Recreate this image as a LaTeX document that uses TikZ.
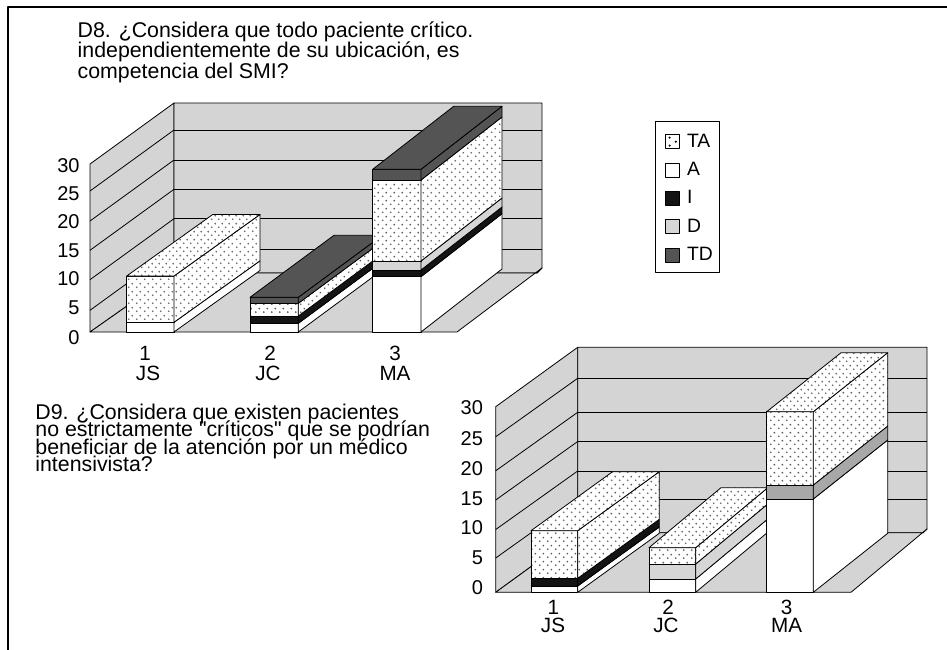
\documentclass[tikz,border=0pt]{standalone}
\usepackage{fontspec}
\setmainfont{Liberation Sans}[Ligatures=TeXOff]
\usetikzlibrary{patterns.meta}
\definecolor{wallgray}{gray}{0.83}
\definecolor{tdgray}{gray}{0.33}
\definecolor{ingray}{gray}{0.08}
\definecolor{dlgray}{gray}{0.84}
\definecolor{dmgray}{gray}{0.66}
\tikzdeclarepattern{
  name=tadots,
  type=uncolored,
  bounding box={(0pt,0pt) and (5.6pt,5.6pt)},
  tile size={(5.6pt,5.6pt)},
  code={
    \pgfpathcircle{\pgfqpoint{1.4pt}{1.4pt}}{0.78pt}
    \pgfpathcircle{\pgfqpoint{4.2pt}{4.2pt}}{0.78pt}
    \pgfusepath{fill}
  }
}
% front face + side face of one stacked segment
\newcommand{\barseg}[7]{%
  \path[#7] (#1,#3) rectangle (#2,#4);
  \path[#7] (#2,#3) -- (#2+#5,#3-#6) -- (#2+#5,#4-#6) -- (#2,#4) -- cycle;}
% top face of a bar
\newcommand{\bartop}[6]{%
  \path[#6] (#1,#3) -- (#2,#3) -- (#2+#4,#3-#5) -- (#1+#4,#3-#5) -- cycle;}
\begin{document}
\begin{tikzpicture}[x=0.75pt,y=-0.75pt,
  line width=0.6pt, line join=round,
  wall/.style={draw=black, fill=wallgray},
  segTA/.style={draw=black, preaction={fill=white}, pattern=tadots, pattern color=black!62},
  segA/.style={draw=black, fill=white},
  segI/.style={draw=black, fill=ingray},
  segDl/.style={draw=black, fill=dlgray},
  segDm/.style={draw=black, fill=dmgray},
  segTD/.style={draw=black, fill=tdgray},
  ttl/.style={font=\fontsize{16}{18}\selectfont, anchor=base west, inner sep=0pt},
  tick/.style={font=\fontsize{15}{17}\selectfont, anchor=base east, inner sep=0pt},
  cat/.style={font=\fontsize{15.5}{17}\selectfont, anchor=base, inner sep=0pt},
  leg/.style={font=\fontsize{14.5}{16}\selectfont, anchor=base west, inner sep=0pt}]
\useasboundingbox (0,0) rectangle (947,650);
% outer frame
\draw[line width=1.5pt] (8,650) -- (8,7) -- (947,7);

% ================= Chart 1 (D8) =================
\node[ttl] (t1a) at (77.3,37.3) {D8. ¿Considera que todo paciente crítico.};
\node[ttl] (t1b) at (77.3,57.5) {independientemente de su ubicación, es};
\node[ttl] (t1c) at (77.3,78) {competencia del SMI?};
% walls and floor
\path[wall] (90,332) -- (90,164) -- (174,103) -- (174,273) -- cycle;
\path[wall] (174,103) -- (542,103) -- (542,268) -- (537,273) -- (174,273) -- cycle;
\foreach \yy in {130,160,189.3,218.7,249.3} {
  \draw (174,\yy) -- (542,\yy);
  \draw (90,\yy+61) -- (174,\yy);
}
\path[wall] (90,332) -- (457,332) -- (542,268) -- (537,273) -- (174,273) -- cycle;
% bar 1
\barseg{126.7}{174}{332}{322.3}{86}{61.5}{segA}
\barseg{126.7}{174}{322.3}{276}{86}{61.5}{segTA}
\bartop{126.7}{174}{276}{86}{61.5}{segTA}
% bar 2
\barseg{250}{298.3}{332}{323.3}{84}{62}{segA}
\barseg{250}{298.3}{323.3}{316}{84}{62}{segI}
\barseg{250}{298.3}{316}{303.3}{84}{62}{segTA}
\barseg{250}{298.3}{303.3}{297.3}{84}{62}{segTD}
\bartop{250}{298.3}{297.3}{84}{62}{segTD}
% bar 3
\barseg{372.7}{421}{332}{276.7}{81}{63}{segA}
\barseg{372.7}{421}{276.7}{270}{81}{63}{segI}
\barseg{372.7}{421}{270}{261}{81}{63}{segDl}
\barseg{372.7}{421}{261}{180}{81}{63}{segTA}
\barseg{372.7}{421}{180}{169.3}{81}{63}{segTD}
\bartop{372.7}{421}{169.3}{81}{63}{segTD}
% axis labels
\node[tick] (c1y30) at (80,172.2) {30};
\node[tick] (c1y25) at (80,200.8) {25};
\node[tick] (c1y20) at (80,228.8) {20};
\node[tick] (c1y15) at (80,257.2) {15};
\node[tick] (c1y10) at (80,285.8) {10};
\node[tick] (c1y5) at (80,314.8) {5};
\node[tick] (c1y0) at (80,344.8) {0};
\node[cat] (c1x1) at (145,360.7) {1};
\node[cat] (c1n1) at (148,380) {JS};
\node[cat] (c1x2) at (270,360.7) {2};
\node[cat] (c1n2) at (268,380) {JC};
\node[cat] (c1x3) at (395,360.7) {3};
\node[cat] (c1n3) at (395,380) {MA};

% ================= Legend =================
\draw[fill=white] (655.7,121.7) rectangle (719.3,272.7);
\draw[fill=white] (665.7,134.7) rectangle (679.3,148.7);
\fill (669.6,137.6) circle (0.9pt) (675.8,141.7) circle (0.9pt) (669.6,145.6) circle (0.9pt);
\path[segA] (665.7,163) rectangle (679.3,177);
\path[segI] (665.7,191) rectangle (679.3,205);
\path[segDl] (665.7,219.7) rectangle (679.3,233.7);
\path[segTD] (665.7,248) rectangle (679.3,262);
\node[leg] (lTA) at (686.7,147) {TA};
\node[leg] (lA) at (686.7,175.2) {A};
\node[leg] (lI) at (686.7,203.3) {I};
\node[leg] (lD) at (686.7,232) {D};
\node[leg] (lTD) at (686.7,260.3) {TD};

% ================= Chart 2 (D9) =================
\node[ttl] (t2a) at (35,419.5) {D9. ¿Considera que existen pacientes};
\node[ttl] (t2b) at (35,436.8) {no estrictamente "críticos" que se podrían};
\node[ttl] (t2c) at (35,454.1) {beneficiar de la atención por un médico};
\node[ttl] (t2d) at (35,471.4) {intensivista?};
% walls and floor
\path[wall] (495.7,592.3) -- (495.7,406.7) -- (577.7,347.3) -- (577.7,532.7) -- cycle;
\path[wall] (577.7,347.3) -- (927,347.3) -- (927,529) -- (923,532.7) -- (577.7,532.7) -- cycle;
\foreach \yy in {378.3,412.3,441.5,471,499.5} {
  \draw (577.7,\yy) -- (927,\yy);
  \draw (495.7,\yy+58.5) -- (577.7,\yy);
}
\path[wall] (495.7,592.3) -- (851,592.3) -- (927,529) -- (923,532.7) -- (577.7,532.7) -- cycle;
% bar 1
\barseg{531}{577.7}{592.3}{586}{81.6}{59}{segA}
\barseg{531}{577.7}{586}{578.3}{81.6}{59}{segI}
\barseg{531}{577.7}{578.3}{530.7}{81.6}{59}{segTA}
\bartop{531}{577.7}{530.7}{81.6}{59}{segTA}
% bar 2
\barseg{649}{695.7}{592.3}{579}{72}{60}{segA}
\barseg{649}{695.7}{579}{564}{72}{60}{segDl}
\barseg{649}{695.7}{564}{547.7}{72}{60}{segTA}
\bartop{649}{695.7}{547.7}{72}{60}{segTA}
% bar 3
\barseg{766.7}{813.3}{592.3}{499}{74.4}{59}{segA}
\barseg{766.7}{813.3}{499}{485}{74.4}{59}{segDm}
\barseg{766.7}{813.3}{485}{411.7}{74.4}{59}{segTA}
\bartop{766.7}{813.3}{411.7}{74.4}{59}{segTA}
% axis labels
\node[tick] (c2y30) at (483.3,414.8) {30};
\node[tick] (c2y25) at (483.3,445.8) {25};
\node[tick] (c2y20) at (483.3,475.8) {20};
\node[tick] (c2y15) at (483.3,505.8) {15};
\node[tick] (c2y10) at (483.3,534.8) {10};
\node[tick] (c2y5) at (483.3,564.8) {5};
\node[tick] (c2y0) at (483.3,594.8) {0};
\node[cat] (c2x1) at (553.3,614) {1};
\node[cat] (c2n1) at (553,632.7) {JS};
\node[cat] (c2x2) at (668,614) {2};
\node[cat] (c2n2) at (666,632.7) {JC};
\node[cat] (c2x3) at (786.7,614) {3};
\node[cat] (c2n3) at (786.7,632.7) {MA};
\end{tikzpicture}
\end{document}
